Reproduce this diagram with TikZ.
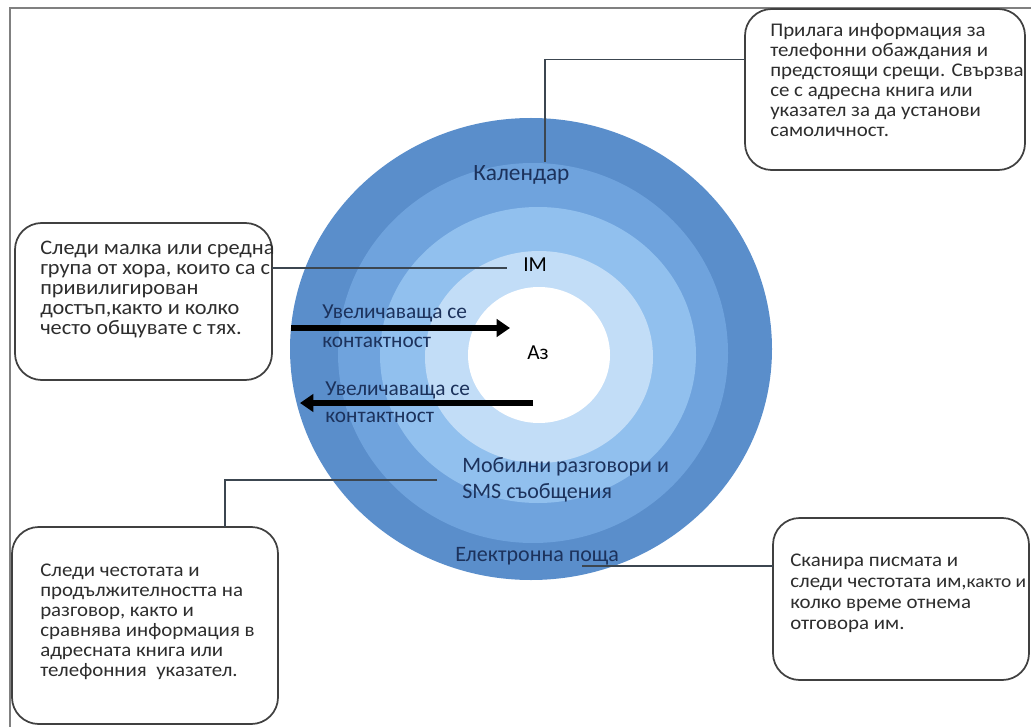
\documentclass[tikz,border=0pt]{standalone}
\usepackage{fontspec}
\setmainfont{Carlito}
\newfontfamily\boxfont{Carlito}[FakeStretch=1.08]
\usetikzlibrary{shapes, arrows.meta, positioning, calc}

\definecolor{ringA}{RGB}{90,142,203}
\definecolor{ringB}{RGB}{111,163,221}
\definecolor{ringC}{RGB}{145,192,238}
\definecolor{ringD}{RGB}{194,221,247}
\definecolor{navytext}{RGB}{28,50,92}
\definecolor{boxgray}{RGB}{64,64,64}
\definecolor{linkgray}{RGB}{60,70,80}

\begin{document}
\begin{tikzpicture}[x=0.75pt,y=0.75pt,yscale=-1,xscale=1,
	infobox/.style={draw=boxgray, line width=1.3pt, rounded corners=20pt, fill=white, inner sep=0pt, outer sep=0pt},
	boxtext/.style={anchor=north west, inner sep=0pt, align=left, text={rgb,255:red,45;green,45;blue,45}, font=\boxfont\fontsize{14.5}{15}\selectfont},
	ringtext/.style={inner sep=0pt, text=navytext, font=\fontsize{16.5}{19.5}\selectfont},
	arrowtext/.style={anchor=west, inner sep=0pt, align=left, text=navytext},
	link/.style={draw=linkgray, line width=1.1pt},
	bigarrow/.style={line width=4pt, -{Triangle[length=10pt,width=13pt]}}
	]
	\useasboundingbox (0,0) rectangle (1031,727);
	
	%Straight Lines: frame
	\draw [color={rgb, 255:red, 128; green, 128; blue, 128 }, line width=1.5pt] (10,727) -- (10,8) -- (1031,8) ;
	
	%Shape: Circle rings
	\fill [ringA] (531,349) ellipse [x radius=241, y radius=231] ;
	\fill [ringB] (533,353) ellipse [x radius=195, y radius=190] ;
	\fill [ringC] (538,355) ellipse [x radius=158, y radius=148] ;
	\fill [ringD] (539,357) ellipse [x radius=114, y radius=106] ;
	\fill [white] (539,355) ellipse [x radius=71, y radius=68] ;
	
	%Shape: Rounded boxes
	\node [infobox, minimum width=210pt, minimum height=120.75pt] (calBox) at (885,89.5) {};
	\node [infobox, minimum width=192.75pt, minimum height=117.75pt] (imBox) at (143.5,301.5) {};
	\node [infobox, minimum width=199.5pt, minimum height=147.75pt] (smsBox) at (145,625.5) {};
	\node [infobox, minimum width=192pt, minimum height=121.5pt] (mailBox) at (901,599) {};
	
	% Text Node
	\node [boxtext] (calText) at (770,23) {Прилага информация за\\телефонни обаждания и\\предстоящи срещи. Свързва\\се с адресна книга или\\указател за да установи\\самоличност.};
	% Text Node
	\node [boxtext, font=\boxfont\fontsize{15.5}{15}\selectfont] (imText) at (40,241) {Следи малка или средна\\група от хора, които са с\\привилигирован\\достъп,както и колко\\често общувате с тях.};
	% Text Node
	\node [boxtext] (smsText) at (40,564) {Следи честотата и\\продължителността на\\разговор, както и\\сравнява информация в\\адресната книга или\\телефонния\ \ указател.};
	% Text Node
	\node [boxtext, font=\boxfont\fontsize{14.5}{15.75}\selectfont] (mailText) at (790,554) {Сканира писмата и\\следи честотата им,{\fontsize{13.5}{15}\selectfont както и}\\колко време отнема\\отговора им.};
	
	% Text Node: ring labels
	\node [ringtext, anchor=base west, font=\fontsize{17.5}{19.5}\selectfont] (calLabel) at (473,181) {Календар};
	\node [ringtext, anchor=base west, text=black, font=\fontsize{16}{19}\selectfont] (imLabel) at (523,272) {IM};
	\node [ringtext, anchor=base west, text=black, font=\fontsize{16}{19}\selectfont] (meLabel) at (527,359) {Аз};
	\node [ringtext, anchor=west, align=left] (smsLabel) at (462,480) {Мобилни разговори и\\SMS съобщения};
	\node [ringtext, anchor=base west] (mailLabel) at (455,561) {Електронна поща};
	
	% Text Node: arrow labels
	\node [arrowtext, font=\fontsize{16}{21.75}\selectfont] (inLabel) at (322,326) {Увеличаваща се\\контактност};
	\node [arrowtext, font=\fontsize{16}{20.25}\selectfont] (outLabel) at (325,402) {Увеличаваща се\\контактност};
	
	%Straight Lines: arrows
	\coordinate (inTail) at (291,328);
	\coordinate (inHead) at (510,328);
	\coordinate (outTail) at (533,403);
	\coordinate (outHead) at (300,403);
	\draw [bigarrow] (inTail) -- (inHead) ;
	\draw [bigarrow] (outTail) -- (outHead) ;
	
	%Straight Lines: connectors
	\coordinate (calTip) at (545,162);
	\coordinate (imTip) at (507,268);
	\coordinate (smsTip) at (437,480);
	\coordinate (mailTip) at (582,566);
	\draw [link] (calTip) |- (calBox.168) ;
	\draw [link] (imBox.east |- imTip) -- (imTip) ;
	\draw [link] (smsTip) -| (smsBox.51) ;
	\draw [link] (mailTip) -- (mailTip -| mailBox.west) ;
	
\end{tikzpicture}
\end{document}
